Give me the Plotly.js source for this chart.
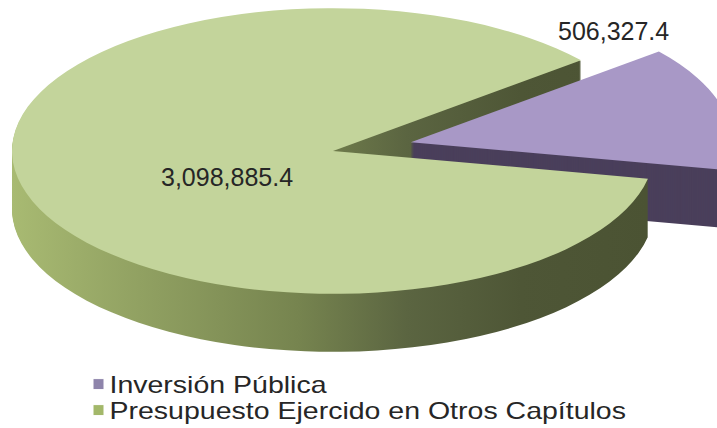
<!DOCTYPE html>
<html><head><meta charset="utf-8">
<script src="https://cdn.plot.ly/plotly-3.0.1.min.js"></script>
<style>html,body{margin:0;padding:0;background:#fff}#chart{width:717px;height:428px}</style>
</head><body><div id="chart"></div>
<script>
const categories = ['Inversión Pública', 'Presupuesto Ejercido en Otros Capítulos'];
const values = [506327.4, 3098885.4];
const topColors = ['#a898c6', '#c3d49b'];
const wallColors = ['#4a3f5b', '#7d8c55'];
const legendColors = ['#8e84ab', '#a3b86a'];
const pulls = [0.25, 0];

function fmt(v) {
  return v.toLocaleString('en-US', {minimumFractionDigits: 1, maximumFractionDigits: 1});
}

const DEPTH = 58;
const STEP = 1;
const traces = [];
const offsets = [];
for (let d = DEPTH; d >= 0; d -= STEP) {
  const isTop = d === 0;
  traces.push({
    type: 'pie', labels: categories, values: values, sort: false,
    direction: 'clockwise', rotation: 50.6, pull: pulls,
    marker: {colors: isTop ? topColors : wallColors, line: {width: 0}},
    textinfo: 'none', hoverinfo: 'skip', showlegend: isTop,
    domain: {x: [0, 1], y: [0, 1]}
  });
  offsets.push(d);
}

const layout = {
  width: 717, height: 428,
  margin: {l: 0, r: 0, t: 0, b: 0},
  paper_bgcolor: '#ffffff',
  font: {family: 'Liberation Sans, Arial, sans-serif', color: '#262626'},
  showlegend: true,
  legend: {x: 0.1095, y: 0.112, xanchor: 'left', yanchor: 'top', orientation: 'v',
           font: {size: 23, color: '#262626'}, bgcolor: 'rgba(0,0,0,0)', itemclick: false},
  annotations: [
    {text: fmt(values[1]), xref: 'paper', yref: 'paper', x: 0.3166, y: 0.5537,
     xanchor: 'center', yanchor: 'middle',
     showarrow: false, font: {size: 25, color: '#262626'}},
    {text: fmt(values[0]), xref: 'paper', yref: 'paper', x: 0.855, y: 0.9206,
     xanchor: 'center', yanchor: 'middle',
     showarrow: false, font: {size: 25, color: '#262626'}}
  ]
};

Plotly.newPlot('chart', traces, layout, {staticPlot: true}).then(gd => {
  const svgNS = 'http://www.w3.org/2000/svg';
  const defs = gd.querySelector('svg.main-svg defs');
  const grad = document.createElementNS(svgNS, 'linearGradient');
  grad.setAttribute('id', 'greenWall');
  grad.setAttribute('x1', '0'); grad.setAttribute('y1', '0');
  grad.setAttribute('x2', '1'); grad.setAttribute('y2', '0');
  [[0, '#a8ba72'], [0.2, '#91a162'], [0.45, '#76844f'], [0.62, '#5b6541'], [0.8, '#4e5636'], [1, '#4b5333']].forEach(s => {
    const st = document.createElementNS(svgNS, 'stop');
    st.setAttribute('offset', s[0]); st.setAttribute('stop-color', s[1]);
    grad.appendChild(st);
  });
  defs.appendChild(grad);

  const TX = 333, TY = 151, RX = 321, K = 0.445;
  const groups = gd.querySelectorAll('.pielayer .trace');
  groups.forEach((g, i) => {
    const cd = gd.calcdata[i][0];
    const s = RX / cd.r;
    g.setAttribute('transform',
      'translate(' + TX + ',' + (TY + offsets[i]) + ') scale(' + s + ',' + (s * K) + ') translate(' + (-cd.cx) + ',' + (-cd.cy) + ')');
    if (offsets[i] > 0) {
      const slices = g.querySelectorAll('g.slice path.surface');
      if (slices[1]) slices[1].style.fill = 'url(#greenWall)';
    }
  });

  // legend: no clipping, tighter rows, wider text, smaller symbol like the reference
  gd.querySelectorAll('.legend [clip-path]').forEach(el => el.removeAttribute('clip-path'));
  const items = gd.querySelectorAll('.legend .traces');
  let y0 = null;
  items.forEach((it, i) => {
    const m = /translate\(([^,]+),\s*([^)]+)\)/.exec(it.getAttribute('transform') || '');
    if (m) {
      if (y0 === null) y0 = parseFloat(m[2]) + 11;
      it.setAttribute('transform', 'translate(' + m[1] + ',' + (y0 + i * 26) + ')');
    }
    const t = it.querySelector('.legendtext');
    if (t) {
      t.setAttribute('x', '31');
      t.setAttribute('transform', 'translate(31,0) scale(1.24,1) translate(-31,0)');
    }
    const sym = it.querySelector('.legendpoints path');
    if (sym) {
      sym.setAttribute('d', 'M5.5,5.5H-5.5V-5.5H5.5Z');
      sym.style.fill = legendColors[i];
      sym.style.stroke = '#ffffff';
      sym.style.strokeWidth = '1px';
    }
  });
});
</script>
</body></html>
